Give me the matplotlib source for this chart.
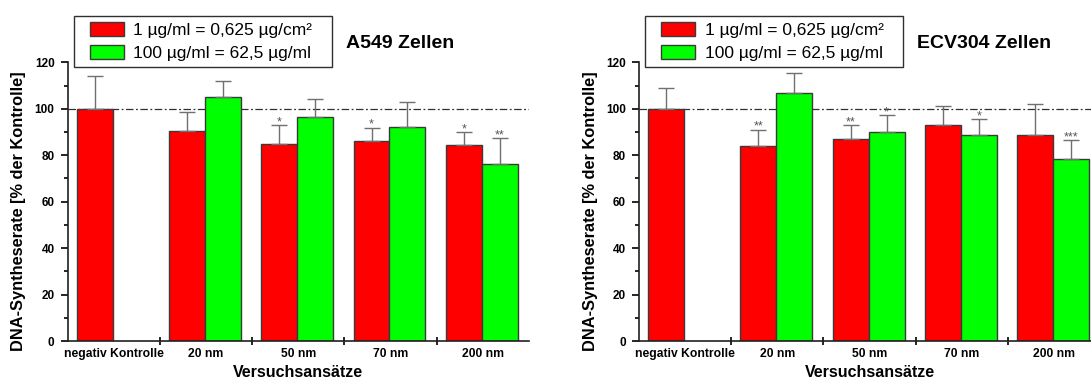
import numpy as np
import matplotlib
matplotlib.use('Agg')
import matplotlib.pyplot as plt
from matplotlib.patches import Rectangle

plt.rcParams['font.family'] = ['Liberation Sans', 'DejaVu Sans']

# Daten
categories = ['negativ Kontrolle', '20 nm', '50 nm', '70 nm', '200 nm']
legend_labels = ['1 µg/ml = 0,625 µg/cm²', '100 µg/ml = 62,5 µg/ml']

# A549 Zellen
a549_low = [100, 90.6, 85.0, 86.0, 84.3]
a549_low_err = [14.3, 7.9, 8.0, 5.9, 5.7]
a549_high = [104.9, 96.3, 92.3, 76.1]      # ohne negativ Kontrolle
a549_high_err = [7.2, 7.9, 10.5, 11.3]
a549_low_stars = ['', '', '*', '*', '*']
a549_high_stars = ['', '', '', '**']

# ECV304 Zellen
ecv_low = [100, 83.9, 86.9, 92.8, 88.9]
ecv_low_err = [8.9, 7.1, 6.1, 8.4, 13.0]
ecv_high = [106.7, 89.8, 88.7, 78.4]
ecv_high_err = [8.9, 7.5, 6.8, 8.1]
ecv_low_stars = ['', '**', '**', '', '']
ecv_high_stars = ['', '*', '*', '***']

RED = '#ff0000'
GREEN = '#00ff00'
EDGE = '#3a3a3a'
ERR = '#707070'


def draw_panel(ax, low, low_err, high, high_err, low_stars, high_stars, title):
    w = 0.39
    x_low = np.arange(len(low)) + 0.295
    x_high = np.arange(1, len(low)) + 0.685

    # Referenzlinie bei 100 %
    ax.axhline(100, color='#303030', lw=0.9, ls=(0, (6, 2, 1.5, 2)), zorder=0)

    b1 = ax.bar(x_low, low, w, color=RED, edgecolor=EDGE, lw=1.0, zorder=2)
    b2 = ax.bar(x_high, high, w, color=GREEN, edgecolor=EDGE, lw=1.0, zorder=2)
    ax.errorbar(x_low, low, yerr=[np.zeros(len(low)), low_err], fmt='none',
                ecolor=ERR, elinewidth=1, capsize=6, capthick=1, zorder=3)
    ax.errorbar(x_high, high, yerr=[np.zeros(len(high)), high_err], fmt='none',
                ecolor=ERR, elinewidth=1, capsize=6, capthick=1, zorder=3)

    # Signifikanzsterne
    for x, y, e, s in zip(x_low, low, low_err, low_stars):
        if s:
            ax.annotate(s, (x, y + e), xytext=(0, 0), textcoords='offset points',
                        ha='center', va='baseline', fontsize=9, color='#555555')
    for x, y, e, s in zip(x_high, high, high_err, high_stars):
        if s:
            ax.annotate(s, (x, y + e), xytext=(0, 0), textcoords='offset points',
                        ha='center', va='baseline', fontsize=9, color='#555555')

    ax.set_xlim(0, 5)
    ax.set_ylim(0, 120)
    for sp in ['top', 'right']:
        ax.spines[sp].set_visible(False)
    for sp in ['left', 'bottom']:
        ax.spines[sp].set_linewidth(1.2)
        ax.spines[sp].set_color('#202020')

    ax.set_yticks(np.arange(0, 121, 20))
    ax.set_yticklabels([str(v) for v in range(0, 121, 20)], fontsize=8.5, fontweight='bold')
    ax.set_yticks(np.arange(10, 120, 20), minor=True)
    ax.tick_params(axis='y', which='major', length=5, width=1.2, direction='out', pad=4.5)
    ax.tick_params(axis='y', which='minor', length=3, width=1.2, direction='out')

    ax.set_xticks([1, 2, 3, 4])
    ax.set_xticklabels([])
    ax.tick_params(axis='x', which='major', length=6, width=1.2, direction='inout')
    ax.set_xticks(np.arange(5) + 0.5, minor=True)
    ax.set_xticklabels(categories, minor=True, fontsize=8.7, fontweight='bold')
    ax.tick_params(axis='x', which='minor', length=0, pad=5)

    ax.set_ylabel('DNA-Syntheserate [% der Kontrolle]', fontsize=11.8, fontweight='bold')
    ax.yaxis.set_label_coords(-0.09, 0.466)
    ax.set_xlabel('Versuchsansätze', fontsize=11.5, fontweight='bold')
    ax.xaxis.label.set_va('center')
    ax.xaxis.set_label_coords(0.5, -0.114)

    ax.text(0.604, 1.066, title, transform=ax.transAxes, ha='left', va='center',
            fontsize=14, fontweight='bold')

    # Legende mit eigenem Rahmen
    ax.add_patch(Rectangle((0.013, 0.984), 0.56, 0.182, transform=ax.transAxes,
                           fill=False, edgecolor='#303030', lw=1.0, clip_on=False))
    ax.legend([b1, b2], legend_labels, loc='upper left', bbox_to_anchor=(0.0477, 1.144),
              frameon=False, fontsize=12.5, borderpad=0, handlelength=1.97,
              handleheight=0.86, handletextpad=0.55, labelspacing=0.38, borderaxespad=0)


fig = plt.figure(figsize=(10.91, 3.82), dpi=100)
ax1 = fig.add_axes([0.0621, 0.1073, 0.4225, 0.7296])
ax2 = fig.add_axes([0.5857, 0.1073, 0.4225, 0.7296])

draw_panel(ax1, a549_low, a549_low_err, a549_high, a549_high_err,
           a549_low_stars, a549_high_stars, 'A549 Zellen')
draw_panel(ax2, ecv_low, ecv_low_err, ecv_high, ecv_high_err,
           ecv_low_stars, ecv_high_stars, 'ECV304 Zellen')

fig.savefig('out.png', dpi=100)
